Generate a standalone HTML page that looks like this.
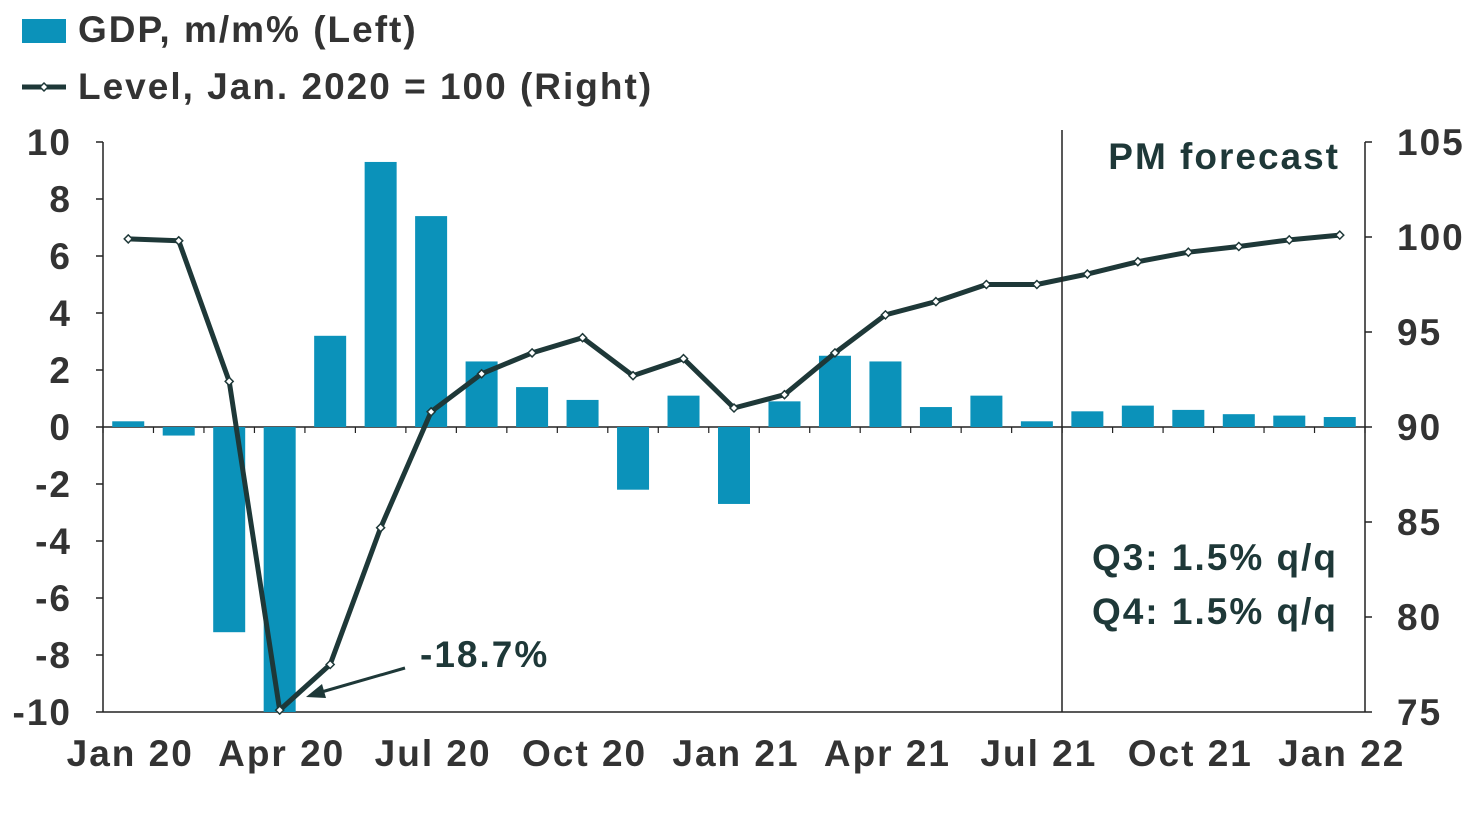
<!DOCTYPE html>
<html><head><meta charset="utf-8">
<style>
html,body{margin:0;padding:0;background:#fff;}
svg{display:block;font-family:"Liberation Sans",sans-serif;}
svg text{font-weight:bold;letter-spacing:2px;}
</style></head>
<body>
<svg id="chart" width="1478" height="834" viewBox="0 0 1478 834" xmlns="http://www.w3.org/2000/svg">
<g>
  <rect x="22" y="19" width="44" height="24" fill="#0b92ba"/>
  <text x="78" y="42" font-size="37" fill="#333">GDP, m/m% (Left)</text>
  <line x1="22" y1="87" x2="66" y2="87" stroke="#1e3838" stroke-width="5"/>
  <path d="M44 83 L48 87 L44 91 L40 87Z" fill="#fff" stroke="#1e3838" stroke-width="1.5"/>
  <text x="78" y="99" font-size="37" fill="#333">Level, Jan. 2020 = 100 (Right)</text>
</g>
<g id="axes"></g>
<g id="bars"></g>
<g id="line"></g>
<g>
  <line x1="1062" y1="130" x2="1062" y2="712" stroke="#222" stroke-width="1.5"/>
  <text x="1340" y="169" font-size="37" fill="#1e3838" text-anchor="end">PM forecast</text>
  <text x="1338" y="570" font-size="37" fill="#1e3838" text-anchor="end">Q3: 1.5% q/q</text>
  <text x="1338" y="624" font-size="37" fill="#1e3838" text-anchor="end">Q4: 1.5% q/q</text>
  <text x="420" y="667" font-size="37" fill="#1e3838">-18.7%</text>
  <line x1="405" y1="668" x2="318" y2="693" stroke="#1e3838" stroke-width="3"/>
  <path d="M306 697 L322 684 L326 698Z" fill="#1e3838"/>
</g>
</svg>
<script>
const categories=["Jan 20","Feb 20","Mar 20","Apr 20","May 20","Jun 20","Jul 20","Aug 20","Sep 20","Oct 20","Nov 20","Dec 20","Jan 21","Feb 21","Mar 21","Apr 21","May 21","Jun 21","Jul 21","Aug 21","Sep 21","Oct 21","Nov 21","Dec 21","Jan 22"];
const gdpMoM=[0.2,-0.3,-7.2,-18.7,3.2,9.3,7.4,2.3,1.4,0.95,-2.2,1.1,-2.7,0.9,2.5,2.3,0.7,1.1,0.2,0.55,0.75,0.6,0.45,0.4,0.35];
const level=[99.9,99.8,92.4,75.1,77.5,84.7,90.8,92.8,93.9,94.7,92.7,93.6,91.0,91.7,93.9,95.9,96.6,97.5,97.5,98.05,98.7,99.2,99.5,99.85,100.1];
const leftTicks=[10,8,6,4,2,0,-2,-4,-6,-8,-10];
const rightTicks=[105,100,95,90,85,80,75];
const xTickLabels=["Jan 20","Apr 20","Jul 20","Oct 20","Jan 21","Apr 21","Jul 21","Oct 21","Jan 22"];

const NS="http://www.w3.org/2000/svg";
const X0=103,X1=1365,T=142,B=712;
const band=(X1-X0)/categories.length;
const xC=i=>X0+band*(i+0.5);
const yL=v=>T+(10-v)/20*(B-T);
const yR=v=>T+(105-v)/30*(B-T);
function mk(tag,attrs,parent){const e=document.createElementNS(NS,tag);for(const k in attrs)e.setAttribute(k,attrs[k]);parent.appendChild(e);return e;}
const axes=document.getElementById('axes'),bars=document.getElementById('bars'),line=document.getElementById('line');

let e=mk('line',{x1:X0,y1:T,x2:X0,y2:B,stroke:'#222','stroke-width':1.5},axes);

e=mk('line',{x1:X1,y1:T,x2:X1,y2:B,stroke:'#222','stroke-width':1.5},axes);

e=mk('line',{x1:X0,y1:yL(0),x2:X1,y2:yL(0),stroke:'#222','stroke-width':1.5},axes);

e=mk('line',{x1:X0,y1:B,x2:X1,y2:B,stroke:'#222','stroke-width':1.5},axes);

for(let i=0;i<=categories.length;i++){mk('line',{x1:X0+band*i,y1:yL(0),x2:X0+band*i,y2:yL(0)+6,stroke:'#222','stroke-width':1.2},axes);}
leftTicks.forEach(v=>{
  mk('line',{x1:X0-7,y1:yL(v),x2:X0,y2:yL(v),stroke:'#222','stroke-width':1.5},axes);
  const t=mk('text',{x:72,y:yL(v)+13,'font-size':37,fill:'#333','text-anchor':'end'},axes);t.textContent=v;
  
});
rightTicks.forEach(v=>{
  mk('line',{x1:X1,y1:yR(v),x2:X1+7,y2:yR(v),stroke:'#222','stroke-width':1.5},axes);
  const t=mk('text',{x:1397,y:yR(v)+13,'font-size':37,fill:'#333'},axes);t.textContent=v;
  
});
xTickLabels.forEach(l=>{
  const i=categories.indexOf(l);
  const t=mk('text',{x:xC(i)+2,y:766,'font-size':37,fill:'#333','text-anchor':'middle'},axes);t.textContent=l;
  
});
gdpMoM.forEach((v,i)=>{
  const vc=Math.max(-10,Math.min(10,v));
  const y0=yL(0),y1=yL(vc);
  const r=mk('rect',{x:xC(i)-16,y:Math.min(y0,y1),width:32,height:Math.abs(y1-y0),fill:'#0b92ba'},bars);
  
  
});
const p=mk('polyline',{points:level.map((v,i)=>xC(i)+','+yR(v)).join(' '),fill:'none',stroke:'#1e3838','stroke-width':5,'stroke-linejoin':'round'},line);

level.forEach((v,i)=>{
  const x=xC(i),y=yR(v);
  const m=mk('path',{d:`M${x} ${y-4} L${x+4} ${y} L${x} ${y+4} L${x-4} ${y}Z`,fill:'#fff',stroke:'#1e3838','stroke-width':1.5},line);
  
});
</script>
</body></html>
